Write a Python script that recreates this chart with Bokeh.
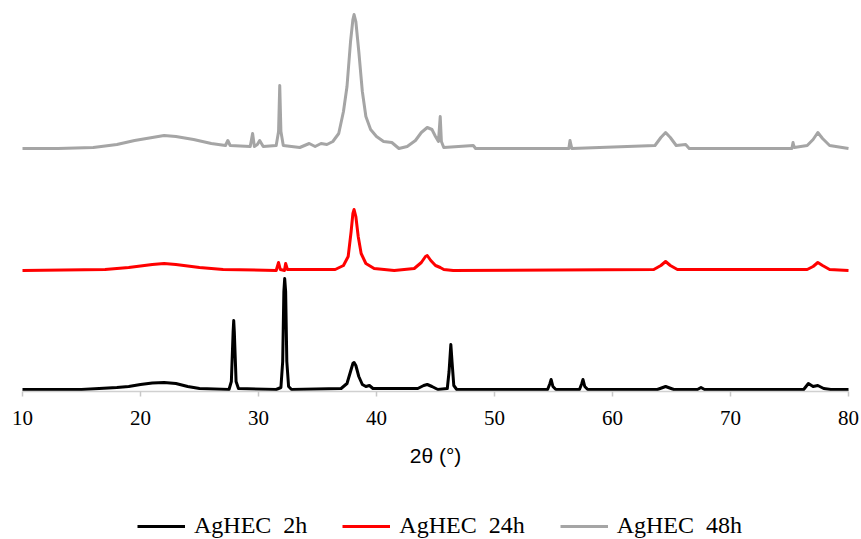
from bokeh.plotting import figure
from bokeh.models import Range1d, Legend, LegendItem, FixedTicker
from bokeh.embed import file_html
from bokeh.resources import INLINE

# ---- data (2theta in degrees, intensity in a.u. with stacking offsets) ----
x_2h = [10, 15, 18, 19, 20, 21, 22, 23, 24, 25, 27.5, 27.7, 27.85, 27.9, 27.95, 28.1, 28.3,
        31.5, 31.9, 32.05, 32.15, 32.22, 32.3, 32.4, 32.55, 32.8, 37.0, 37.5, 37.8, 38.0, 38.1,
        38.25, 38.5, 38.8, 39.1, 39.4, 39.7, 43.5, 44.0, 44.3, 44.7, 45.2, 46.0, 46.15, 46.3,
        46.4, 46.55, 46.8, 54.5, 54.7, 54.8, 54.95, 55.2, 57.2, 57.4, 57.5, 57.65, 57.9, 63.8,
        64.5, 65.2, 67.2, 67.5, 67.8, 76.2, 76.6, 77.0, 77.4, 77.9, 78.5, 80]
y_2h = [2, 2, 4, 5, 7, 8.5, 9, 8, 5, 3, 2, 10, 60, 71, 60, 10, 3,
        2, 4, 30, 100, 113, 100, 30, 5, 2, 3, 8, 20, 28, 29,
        26, 15, 7, 5, 6, 3, 3, 6, 7, 5, 2, 3, 20, 47,
        30, 6, 2, 2, 8, 12, 5, 2, 2, 8, 12, 5, 2, 2,
        5, 2, 2, 4, 2, 2, 8, 5, 6, 3, 2, 2]

x_24h = [10, 17, 19, 21, 22, 23, 25, 27, 31.5, 31.7, 31.85, 32.2, 32.3, 32.45, 36.5, 37.2,
         37.6, 37.85, 38.0, 38.1, 38.25, 38.45, 38.7, 39.1, 39.8, 41.5, 43.2, 43.8, 44.15,
         44.3, 44.6, 45.0, 45.4, 45.7, 46.5, 63.5, 64.1, 64.5, 64.9, 65.5, 76.5, 77.0, 77.4,
         77.8, 78.4, 80]
y_24h = [121, 122, 124, 127, 128, 127, 124, 122, 121, 129, 122, 121, 128, 122, 122, 126,
         135, 160, 178, 182, 175, 155, 138, 128, 123, 121, 123, 129, 135,
         136, 131, 126, 124, 122, 121, 122, 126, 130, 126, 122, 122, 125, 129,
         126, 122, 121]

x_48h = [10, 13, 16, 18, 19.5, 21, 22, 23, 24.5, 26, 27.2, 27.4, 27.6, 29.3, 29.5, 29.65,
         29.9, 30.1, 30.4, 31.5, 31.7, 31.8, 31.9, 32.1, 33.5, 34.3, 34.8, 35.3, 35.8, 36.3,
         36.8, 37.2, 37.5, 37.8, 38.0, 38.1, 38.25, 38.5, 38.8, 39.1, 39.5, 40.0, 40.6, 41.3,
         41.9, 42.6, 43.3, 43.8, 44.3, 44.7, 45.0, 45.25, 45.4, 45.5, 45.7, 48.2, 48.4, 56.3,
         56.4, 56.55, 63.6, 64.1, 64.5, 64.9, 65.4, 66.2, 66.5, 75.2, 75.3, 75.4, 76.5, 77.0,
         77.4, 77.8, 78.4, 80]
y_48h = [243, 243, 244, 247, 251, 254, 256, 255, 252, 248, 246, 251, 246, 245, 258, 245,
         247, 251, 245, 246, 260, 306, 260, 246, 244, 248, 245, 248, 247, 250,
         258, 280, 305, 350, 372, 377, 370, 340, 300, 275, 262, 255, 250, 249,
         243, 245, 251, 259, 264, 262, 255, 250, 275, 250, 244, 246, 243, 243,
         251, 243, 246, 254, 259, 254, 246, 247, 243, 243, 249, 244, 246, 252,
         259, 253, 246, 243]

series_names = ["AgHEC  2h", "AgHEC  24h", "AgHEC  48h"]
series_colors = ["#000000", "#FF0000", "#A5A5A5"]
x_ticks = [10, 20, 30, 40, 50, 60, 70, 80]
x_min, x_max = 10, 80

# layout: the frame covers the whole window; axis drawn at intensity 0
W, H = 861, 539
pad_left, pad_right = 22, 13
px_per_unit = (W - pad_left - pad_right) / (x_max - x_min)
x_lo = x_min - pad_left / px_per_unit
x_hi = x_max + pad_right / px_per_unit

p = figure(frame_width=W, frame_height=H, output_backend="svg", toolbar_location=None,
           x_range=Range1d(x_lo, x_hi), y_range=Range1d(-148, 391),
           min_border_left=0, min_border_right=0, min_border_top=0,
           min_border_bottom=0)
p.outline_line_color = None
p.grid.visible = False
p.yaxis.visible = False
p.background_fill_color = "white"
p.border_fill_color = "white"

renderers = []
for xs, ys, c in zip([x_2h, x_24h, x_48h], [y_2h, y_24h, y_48h], series_colors):
    r = p.line(xs, ys, line_color=c, line_width=3, line_join="round")
    renderers.append(r)

ax = p.xaxis[0]
ax.fixed_location = 0
ax.bounds = (x_min, x_max)
ax.ticker = FixedTicker(ticks=x_ticks)
ax.axis_line_color = "#D0D0D0"
ax.axis_line_width = 1.5
ax.major_tick_line_color = "#C8C8C8"
ax.major_tick_line_width = 1.5
ax.major_tick_in = 0
ax.major_tick_out = 5
ax.minor_tick_line_color = None
ax.major_label_text_font = "Liberation Serif"
ax.major_label_text_font_size = "21px"
ax.major_label_text_color = "#000000"
ax.major_label_standoff = 14
ax.axis_label = "2θ (°)"
ax.axis_label_text_font = "Liberation Sans"
ax.axis_label_text_font_style = "normal"
ax.axis_label_text_font_size = "21px"
ax.axis_label_text_color = "#000000"
ax.axis_label_standoff = 16

items = [LegendItem(label=n, renderers=[r]) for n, r in zip(series_names, renderers)]
legend = Legend(items=items, orientation="horizontal", location=(137, 0),
                label_text_font="Liberation Serif", label_text_font_size="24px",
                label_text_color="#000000", glyph_width=48, glyph_height=20,
                label_standoff=9, spacing=35, padding=0, margin=0,
                border_line_color=None, background_fill_alpha=0)
p.add_layout(legend, "center")

open("out.html", "w").write(file_html(p, INLINE))
